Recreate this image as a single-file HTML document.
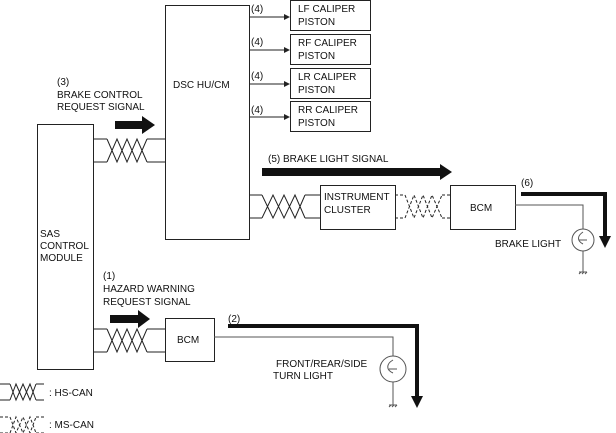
<!DOCTYPE html>
<html><head><meta charset="utf-8"><style>
html,body{margin:0;padding:0;background:#fff}
svg{display:block}
text{font-family:"Liberation Sans",sans-serif;font-size:10px;fill:#111}
</style></head><body>
<svg width="616" height="433" viewBox="0 0 616 433" xmlns="http://www.w3.org/2000/svg">
<g fill="none" stroke="#222" stroke-width="1">
<rect x="37.5" y="124.5" width="56" height="245"/>
<rect x="165.5" y="5.5" width="84" height="234"/>
<rect x="290.5" y="0.5" width="80" height="30"/>
<rect x="290.5" y="34.5" width="80" height="30"/>
<rect x="290.5" y="68.5" width="80" height="30"/>
<rect x="290.5" y="101.5" width="80" height="30"/>
<rect x="320.5" y="185.5" width="75" height="44"/>
<rect x="450.5" y="185.5" width="65" height="44"/>
<rect x="165.5" y="318.5" width="49" height="43"/>
<path d="M249 17H284M249 50H284M249 84H284M249 117H284"/>
<path d="M93 139H107M147 139H165M93 162H107M147 162H165"/>
<path d="M107 162L117 139L127 162L137 139L147 162M107 139L117 162L127 139L137 162L147 139"/>
<path d="M249 195H262M305 195H320M249 218H262M305 218H320"/>
<path d="M262 218L273 195L284 218L295 195L305 218M262 195L273 218L284 195L295 218L305 195"/>
<g stroke-dasharray="3,2">
<path d="M395 195H405M442 195H450M395 218H405M442 218H450"/>
<path d="M405 218L414 195L423 218L432 195L442 218M405 195L414 218L423 195L432 218L442 195"/>
</g>
<path d="M93 329H107M147 329H165M93 352H107M147 352H165"/>
<path d="M107 352L117 329L127 352L137 329L147 352M107 329L117 352L127 329L137 352L147 329"/>
<path d="M0 384H10M36 384H44M0 400H10M36 400H44M10 400L16 384L23 400L30 384L36 400M10 384L16 400L23 384L30 400L36 384"/>
<g stroke-dasharray="3,2"><path d="M0 417H10M36 417H44M0 433H10M36 433H44M10 433L16 417L23 433L30 417L36 433M10 417L16 433L23 417L30 433L36 417"/></g>
</g>
<g fill="#222">
<path d="M284 14L290 17L284 20Z M284 47L290 50L284 53Z M284 81L290 84L284 87Z M284 114L290 117L284 120Z"/>
</g>
<path d="M115 121H142V116L155 125L142 134V129H115Z" fill="#111"/>
<path d="M110 315H138V310L150 319L138 328V323H110Z" fill="#111"/>
<path d="M262 168H440V164L452 172L440 180V176H262Z" fill="#111"/>
<path d="M521 194H605V238" fill="none" stroke="#111" stroke-width="4"/>
<path d="M599 236H611L605 248Z" fill="#111"/>
<path d="M228 326H417V398" fill="none" stroke="#111" stroke-width="4"/>
<path d="M411 396H423L417 408Z" fill="#111"/>
<g fill="none" stroke="#555" stroke-width="1">
<path d="M515 205H583V229M583 251V272"/>
<circle cx="583" cy="240" r="11"/>
<path d="M583 232C577 236 577 241 583 244M579 240H587"/>
<path d="M579 272H587M579 274L581 272M582 274L584 272M585 274L587 272"/>
<path d="M214 337H393V356M393 382V405"/>
<circle cx="393" cy="369" r="13"/>
<path d="M393 360C386 364 386 370 393 373M389 369H397"/>
<path d="M389 405H397M389 407L391 405M392 407L394 405M395 407L397 405"/>
</g>
<text x="298" y="12">LF CALIPER</text><text x="298" y="25">PISTON</text>
<text x="298" y="46">RF CALIPER</text><text x="298" y="59">PISTON</text>
<text x="298" y="80">LR CALIPER</text><text x="298" y="93">PISTON</text>
<text x="298" y="113">RR CALIPER</text><text x="298" y="126">PISTON</text>
<text x="251" y="12">(4)</text><text x="251" y="45">(4)</text><text x="251" y="79">(4)</text><text x="251" y="113">(4)</text>
<text x="173" y="88">DSC HU/CM</text>
<text x="57" y="85">(3)</text>
<text x="57" y="98">BRAKE CONTROL</text>
<text x="57" y="110">REQUEST SIGNAL</text>
<text x="40" y="237">SAS</text><text x="40" y="249">CONTROL</text><text x="40" y="261">MODULE</text>
<text x="268" y="162">(5) BRAKE LIGHT SIGNAL</text>
<text x="324" y="200">INSTRUMENT</text><text x="324" y="213">CLUSTER</text>
<text x="470" y="211">BCM</text>
<text x="521" y="186">(6)</text>
<text x="495" y="247">BRAKE LIGHT</text>
<text x="103" y="279">(1)</text>
<text x="103" y="292">HAZARD WARNING</text>
<text x="103" y="305">REQUEST SIGNAL</text>
<text x="177" y="343">BCM</text>
<text x="228" y="322">(2)</text>
<text x="276" y="367">FRONT/REAR/SIDE</text>
<text x="273" y="379">TURN LIGHT</text>
<text x="49" y="396">: HS-CAN</text>
<text x="49" y="428">: MS-CAN</text>
</svg>
</body></html>
